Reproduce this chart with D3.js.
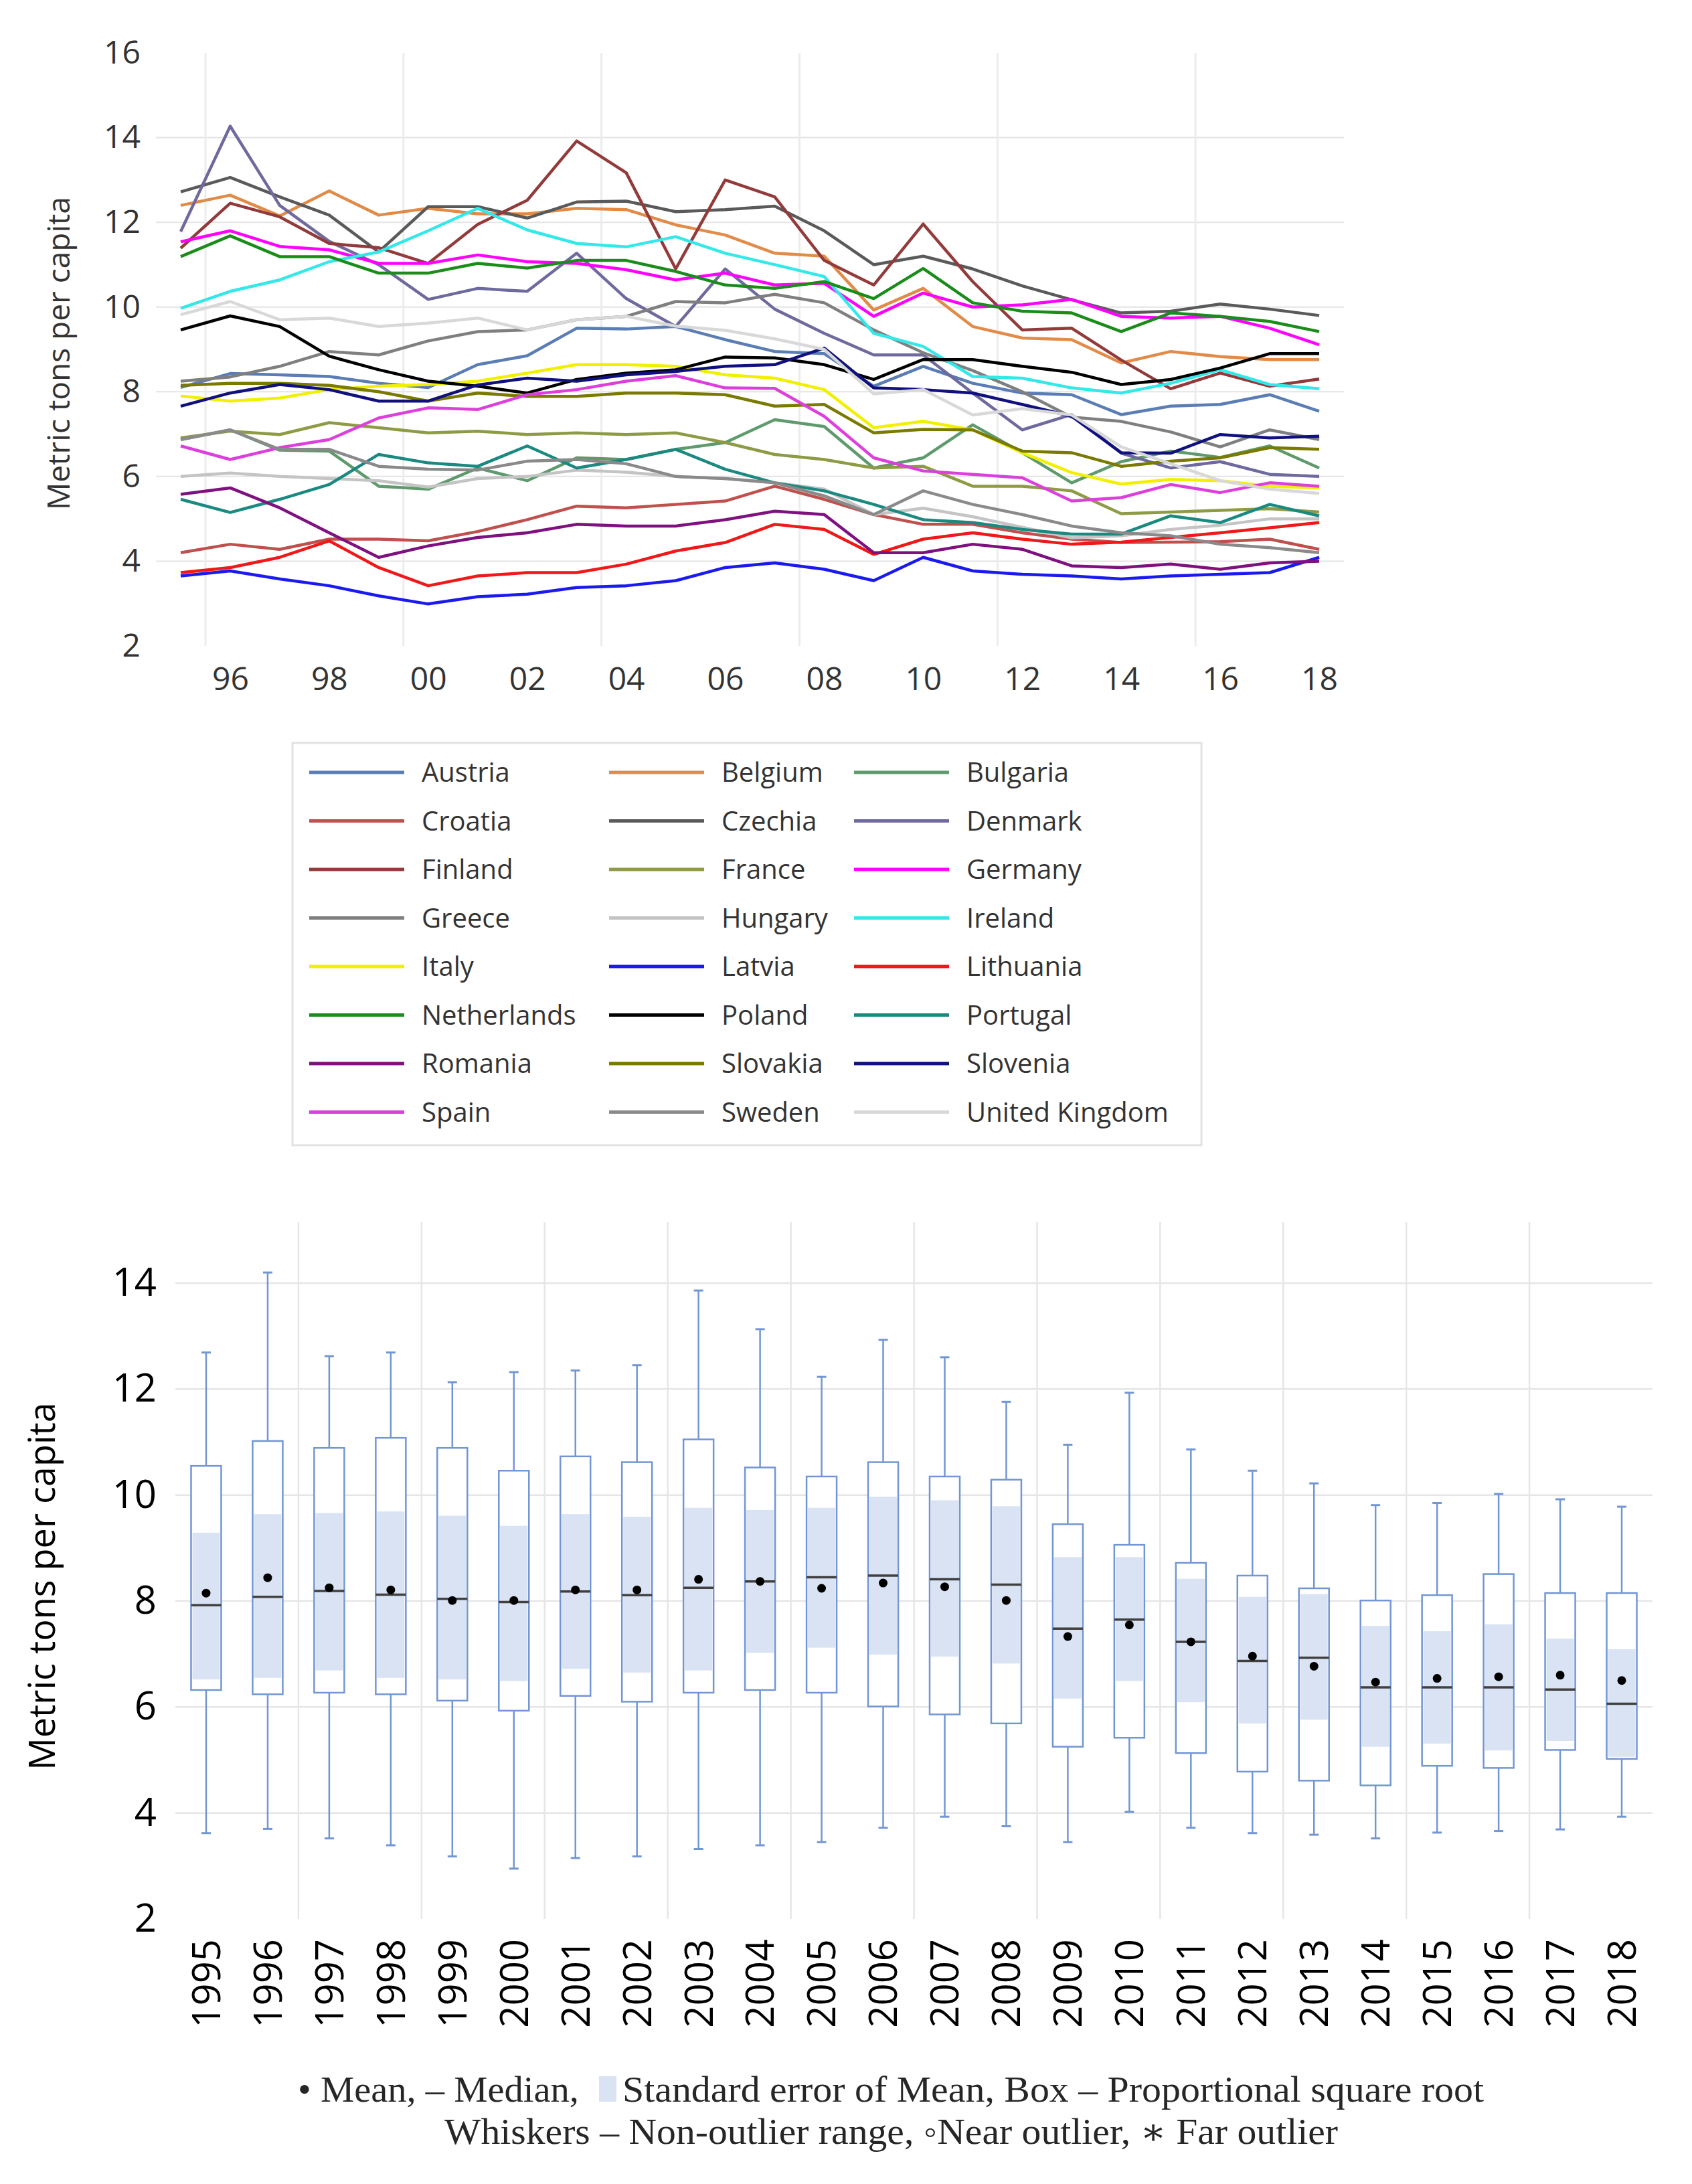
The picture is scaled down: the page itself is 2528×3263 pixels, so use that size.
<!DOCTYPE html>
<html>
<head>
<meta charset="utf-8">
<script src="https://cdnjs.cloudflare.com/ajax/libs/d3/7.8.5/d3.min.js"></script>
<style>
    body { margin: 0; background: #ffffff; }
    svg { display: block; }
</style>
</head>
<body>
<svg id="chart" width="2528" height="3263"></svg>
<script>
// Years on both charts
const years = d3.range(1995, 2019);
const topTickYears = [1996, 1998, 2000, 2002, 2004, 2006, 2008, 2010, 2012, 2014, 2016, 2018];
const topTickLabels = ['96', '98', '00', '02', '04', '06', '08', '10', '12', '14', '16', '18'];

// Metric tons per capita, 1995..2018, one array per country
const austria     = [8.1, 8.43, 8.4, 8.36, 8.2, 8.1, 8.64, 8.85, 9.5, 9.48, 9.54, 9.23, 8.95, 8.9, 8.13, 8.6, 8.2, 7.97, 7.93, 7.46, 7.66, 7.7, 7.93, 7.54];
const belgium     = [12.4, 12.64, 12.15, 12.74, 12.17, 12.33, 12.2, 12.2, 12.33, 12.3, 11.94, 11.7, 11.27, 11.2, 9.93, 10.44, 9.54, 9.27, 9.23, 8.68, 8.95, 8.83, 8.76, 8.76];
const bulgaria    = [6.87, 7.1, 6.62, 6.6, 5.77, 5.7, 6.2, 5.9, 6.44, 6.4, 6.64, 6.8, 7.34, 7.18, 6.2, 6.44, 7.22, 6.56, 5.85, 6.35, 6.6, 6.45, 6.72, 6.2];
const croatia     = [4.2, 4.4, 4.28, 4.52, 4.52, 4.48, 4.7, 4.98, 5.3, 5.26, 5.34, 5.42, 5.77, 5.46, 5.1, 4.87, 4.87, 4.67, 4.52, 4.44, 4.45, 4.46, 4.52, 4.28];
const czechia     = [12.72, 13.06, 12.6, 12.17, 11.3, 12.37, 12.37, 12.1, 12.48, 12.5, 12.25, 12.3, 12.38, 11.8, 11.0, 11.2, 10.9, 10.5, 10.17, 9.86, 9.9, 10.07, 9.95, 9.8];
const denmark     = [11.78, 14.27, 12.4, 11.55, 11.0, 10.18, 10.44, 10.37, 11.27, 10.2, 9.54, 10.9, 9.95, 9.38, 8.87, 8.87, 7.97, 7.1, 7.46, 6.55, 6.2, 6.35, 6.05, 6.0];
const finland     = [11.39, 12.45, 12.13, 11.5, 11.4, 11.03, 11.95, 12.52, 13.92, 13.17, 10.9, 13.0, 12.6, 11.1, 10.52, 11.96, 10.6, 9.46, 9.5, 8.75, 8.07, 8.44, 8.13, 8.3];
const france      = [6.91, 7.07, 6.99, 7.27, 7.15, 7.03, 7.07, 6.99, 7.03, 6.99, 7.03, 6.8, 6.52, 6.4, 6.2, 6.24, 5.77, 5.77, 5.66, 5.12, 5.16, 5.2, 5.24, 5.16];
const germany     = [11.54, 11.8, 11.43, 11.35, 11.03, 11.03, 11.23, 11.07, 11.03, 10.88, 10.64, 10.8, 10.52, 10.56, 9.78, 10.33, 10.0, 10.05, 10.18, 9.78, 9.74, 9.78, 9.5, 9.11];
const greece      = [8.25, 8.35, 8.6, 8.95, 8.87, 9.2, 9.42, 9.46, 9.7, 9.78, 10.13, 10.1, 10.3, 10.1, 9.46, 8.92, 8.5, 8.0, 7.4, 7.3, 7.05, 6.7, 7.1, 6.87];
const hungary     = [6.0, 6.08, 6.0, 5.95, 5.9, 5.75, 5.95, 6.0, 6.15, 6.1, 6.0, 5.95, 5.85, 5.7, 5.1, 5.25, 5.05, 4.8, 4.55, 4.6, 4.75, 4.85, 5.0, 5.0];
const ireland     = [9.97, 10.37, 10.64, 11.07, 11.3, 11.8, 12.33, 11.82, 11.5, 11.42, 11.66, 11.27, 11.0, 10.72, 9.38, 9.07, 8.36, 8.32, 8.09, 7.97, 8.2, 8.52, 8.17, 8.07];
const italy       = [7.9, 7.78, 7.85, 8.05, 8.13, 8.17, 8.25, 8.44, 8.64, 8.64, 8.6, 8.4, 8.32, 8.05, 7.15, 7.3, 7.1, 6.56, 6.09, 5.82, 5.93, 5.9, 5.77, 5.73];
const latvia      = [3.65, 3.77, 3.58, 3.42, 3.18, 2.99, 3.16, 3.22, 3.38, 3.42, 3.54, 3.85, 3.96, 3.81, 3.54, 4.09, 3.77, 3.69, 3.65, 3.58, 3.65, 3.69, 3.73, 4.09];
const lithuania   = [3.73, 3.85, 4.09, 4.48, 3.85, 3.42, 3.65, 3.73, 3.73, 3.93, 4.24, 4.44, 4.87, 4.75, 4.16, 4.52, 4.67, 4.52, 4.4, 4.45, 4.56, 4.67, 4.79, 4.91];
const netherlands = [11.19, 11.68, 11.19, 11.19, 10.8, 10.8, 11.03, 10.92, 11.1, 11.1, 10.84, 10.52, 10.44, 10.6, 10.2, 10.91, 10.1, 9.9, 9.86, 9.42, 9.86, 9.78, 9.66, 9.42];
const poland      = [9.46, 9.79, 9.54, 8.84, 8.52, 8.25, 8.13, 7.97, 8.29, 8.44, 8.52, 8.82, 8.8, 8.64, 8.29, 8.76, 8.76, 8.6, 8.46, 8.17, 8.29, 8.56, 8.9, 8.9];
const portugal    = [5.46, 5.15, 5.46, 5.81, 6.52, 6.32, 6.24, 6.72, 6.2, 6.4, 6.64, 6.17, 5.85, 5.66, 5.34, 4.98, 4.91, 4.75, 4.64, 4.64, 5.07, 4.91, 5.34, 5.07];
const romania     = [5.58, 5.73, 5.26, 4.67, 4.09, 4.36, 4.56, 4.67, 4.87, 4.83, 4.83, 4.98, 5.18, 5.1, 4.2, 4.2, 4.4, 4.28, 3.89, 3.85, 3.93, 3.81, 3.96, 4.0];
const slovakia    = [8.15, 8.2, 8.2, 8.15, 8.0, 7.78, 7.97, 7.89, 7.89, 7.97, 7.97, 7.93, 7.66, 7.7, 7.03, 7.11, 7.1, 6.6, 6.56, 6.24, 6.36, 6.44, 6.68, 6.64];
const slovenia    = [7.66, 7.97, 8.17, 8.05, 7.78, 7.78, 8.16, 8.32, 8.25, 8.4, 8.48, 8.6, 8.64, 9.03, 8.09, 8.05, 7.97, 7.7, 7.42, 6.56, 6.55, 6.99, 6.91, 6.95];
const spain       = [6.72, 6.4, 6.68, 6.87, 7.38, 7.62, 7.58, 7.93, 8.05, 8.25, 8.38, 8.09, 8.08, 7.42, 6.44, 6.13, 6.05, 5.97, 5.42, 5.5, 5.81, 5.62, 5.85, 5.77];
const sweden      = [6.87, 7.1, 6.64, 6.64, 6.24, 6.17, 6.15, 6.36, 6.4, 6.3, 6.0, 5.95, 5.85, 5.54, 5.1, 5.66, 5.34, 5.1, 4.83, 4.67, 4.6, 4.4, 4.32, 4.2];
const unitedKingdom = [9.82, 10.13, 9.7, 9.74, 9.54, 9.62, 9.74, 9.46, 9.7, 9.78, 9.55, 9.45, 9.25, 9.0, 7.95, 8.05, 7.45, 7.6, 7.45, 6.7, 6.3, 5.9, 5.7, 5.6];

const countryNames = ['Austria', 'Belgium', 'Bulgaria', 'Croatia', 'Czechia', 'Denmark', 'Finland', 'France',
    'Germany', 'Greece', 'Hungary', 'Ireland', 'Italy', 'Latvia', 'Lithuania', 'Netherlands', 'Poland',
    'Portugal', 'Romania', 'Slovakia', 'Slovenia', 'Spain', 'Sweden', 'United Kingdom'];
const countryValues = [austria, belgium, bulgaria, croatia, czechia, denmark, finland, france,
    germany, greece, hungary, ireland, italy, latvia, lithuania, netherlands, poland,
    portugal, romania, slovakia, slovenia, spain, sweden, unitedKingdom];

// Box plot summary per year
const boxMax    = [12.69, 14.2, 12.62, 12.69, 12.13, 12.32, 12.35, 12.45, 13.86, 13.13, 12.23, 12.93, 12.6, 11.76, 10.95, 11.93, 10.86, 10.46, 10.22, 9.81, 9.85, 10.02, 9.92, 9.78];
const boxQ3     = [10.55, 11.02, 10.89, 11.08, 10.89, 10.46, 10.73, 10.62, 11.05, 10.52, 10.35, 10.62, 10.35, 10.29, 9.45, 9.06, 8.72, 8.48, 8.24, 8.01, 8.11, 8.51, 8.15, 8.15];
const boxMedian = [7.92, 8.08, 8.19, 8.12, 8.04, 7.98, 8.18, 8.11, 8.25, 8.37, 8.45, 8.48, 8.41, 8.31, 7.48, 7.65, 7.23, 6.87, 6.93, 6.37, 6.37, 6.37, 6.33, 6.06];
const boxMean   = [8.15, 8.44, 8.25, 8.21, 8.01, 8.01, 8.21, 8.21, 8.41, 8.37, 8.24, 8.34, 8.27, 8.01, 7.33, 7.55, 7.23, 6.96, 6.77, 6.47, 6.54, 6.57, 6.6, 6.5];
const boxQ1     = [6.32, 6.24, 6.27, 6.24, 6.12, 5.93, 6.21, 6.1, 6.27, 6.32, 6.27, 6.01, 5.86, 5.69, 5.25, 5.42, 5.13, 4.78, 4.61, 4.52, 4.89, 4.85, 5.19, 5.02];
const boxMin    = [3.62, 3.7, 3.52, 3.39, 3.18, 2.95, 3.15, 3.18, 3.32, 3.39, 3.45, 3.72, 3.93, 3.75, 3.45, 4.02, 3.72, 3.62, 3.59, 3.52, 3.63, 3.66, 3.69, 3.93];
const seHigh    = [9.29, 9.64, 9.66, 9.69, 9.61, 9.42, 9.64, 9.59, 9.76, 9.72, 9.76, 9.97, 9.9, 9.79, 8.83, 8.83, 8.42, 8.08, 8.13, 7.53, 7.43, 7.56, 7.29, 7.09];
const seLow     = [6.52, 6.55, 6.69, 6.55, 6.52, 6.49, 6.72, 6.65, 6.69, 7.02, 7.12, 6.99, 6.95, 6.82, 6.16, 6.49, 6.09, 5.69, 5.76, 5.25, 5.31, 5.18, 5.36, 5.06];

// Line colours, same order as countryNames
const lineColors = ['#5A7DB5', '#E28B48', '#5E9A6C', '#C0504D', '#5A5A5A', '#6F6A9E', '#933B3B', '#8F9A45',
    '#FF00FF', '#7F7F7F', '#C4C4C4', '#33E8E8', '#F0F000', '#1A1AF0', '#F01818', '#1A8C1A', '#000000',
    '#1A8A80', '#7F107F', '#7A7A00', '#10107F', '#DD3FDD', '#8A8A8A', '#D8D8D8'];

const svg = d3.select('#chart');
const font = "'Open Sans', 'Liberation Sans', sans-serif";

// Function to draw the line chart on top
function drawLineChart() {
    const x = d3.scaleLinear().domain([1994.5, 2018.5]).range([233, 2008]);
    const y = d3.scaleLinear().domain([2, 16]).range([965, 79]);
    const g = svg.append('g');

    // Grid
    g.selectAll('.hgrid').data(d3.range(4, 16, 2)).enter().append('line')
        .attr('x1', x(1994.5)).attr('x2', x(2018.5))
        .attr('y1', d => y(d)).attr('y2', d => y(d))
        .attr('stroke', '#e4e4e4').attr('stroke-width', 2);
    g.selectAll('.vgrid').data(d3.range(1995.5, 2018, 4)).enter().append('line')
        .attr('x1', d => x(d)).attr('x2', d => x(d))
        .attr('y1', y(16)).attr('y2', y(2))
        .attr('stroke', '#ececec').attr('stroke-width', 3);

    // Axes
    const yAxis = g.append('g').attr('transform', 'translate(210,0)')
        .call(d3.axisLeft(y).tickValues(d3.range(2, 17, 2)).tickSize(0).tickPadding(0));
    const xAxis = g.append('g').attr('transform', 'translate(0,997)')
        .call(d3.axisBottom(x).tickValues(topTickYears)
            .tickFormat((d, i) => topTickLabels[i]).tickSize(0).tickPadding(0));
    [yAxis, xAxis].forEach(a => {
        a.select('.domain').remove();
        a.selectAll('text').attr('font-size', 48).attr('font-family', font).attr('fill', '#333');
    });

    g.append('text')
        .attr('transform', 'translate(104,528) rotate(-90)')
        .attr('text-anchor', 'middle')
        .attr('font-size', 46).attr('font-family', font).attr('fill', '#333')
        .text('Metric tons per capita');

    // Lines
    const line = d3.line()
        .x((d, i) => x(years[i]))
        .y(d => y(d));

    g.selectAll('.country').data(countryValues).enter().append('path')
        .attr('fill', 'none')
        .attr('stroke', (d, i) => lineColors[i])
        .attr('stroke-width', 4.5)
        .attr('stroke-linejoin', 'round')
        .attr('d', line);

    // Legend
    const legend = svg.append('g');
    legend.append('rect')
        .attr('x', 437).attr('y', 1110).attr('width', 1358).attr('height', 601)
        .attr('fill', '#fff').attr('stroke', '#e2e2e2').attr('stroke-width', 3);

    const colX = [462, 910, 1276];
    const items = legend.selectAll('.item').data(countryNames).enter().append('g')
        .attr('transform', (d, i) => `translate(${colX[i % 3]},${1154 + Math.floor(i / 3) * 72.5})`);
    items.append('line')
        .attr('x1', 0).attr('x2', 142)
        .attr('stroke', (d, i) => lineColors[i]).attr('stroke-width', 5);
    items.append('text')
        .attr('x', 168).attr('dy', '0.35em')
        .attr('font-size', 40).attr('font-family', font).attr('fill', '#333')
        .text(d => d);
}

// Function to draw the box plot below
function drawBoxPlot() {
    const x = d3.scaleBand().domain(years).range([262, 2469]);
    const y = d3.scaleLinear().domain([2, 14]).range([2867, 1917]);
    const g = svg.append('g');
    const boxW = 45;
    const blue = '#7296D3';

    g.selectAll('.hgrid').data(d3.range(4, 16, 2)).enter().append('line')
        .attr('x1', 262).attr('x2', 2469)
        .attr('y1', d => y(d)).attr('y2', d => y(d))
        .attr('stroke', '#e6e6e6').attr('stroke-width', 2.5);
    g.selectAll('.vgrid').data(d3.range(1996, 2017, 2)).enter().append('line')
        .attr('x1', d => x(d) + x.bandwidth()).attr('x2', d => x(d) + x.bandwidth())
        .attr('y1', y(15.15)).attr('y2', y(2))
        .attr('stroke', '#e6e6e6').attr('stroke-width', 2.5);

    const yAxis = g.append('g').attr('transform', 'translate(234,0)')
        .call(d3.axisLeft(y).tickValues(d3.range(2, 15, 2)).tickSize(0).tickPadding(0));
    yAxis.select('.domain').remove();
    yAxis.selectAll('text').attr('font-size', 58).attr('font-family', font).attr('fill', '#000');

    const xAxis = g.append('g').attr('transform', 'translate(0,2897)')
        .call(d3.axisBottom(x).tickSize(0).tickPadding(0));
    xAxis.select('.domain').remove();
    xAxis.selectAll('text')
        .attr('transform', 'rotate(-90)')
        .attr('text-anchor', 'end')
        .attr('x', 0).attr('y', 0).attr('dy', '0.36em')
        .attr('font-size', 58).attr('font-family', font).attr('fill', '#000');

    g.append('text')
        .attr('transform', 'translate(82,2370) rotate(-90)')
        .attr('text-anchor', 'middle')
        .attr('font-size', 54).attr('font-family', font).attr('fill', '#000')
        .text('Metric tons per capita');

    const box = g.selectAll('.box').data(years).enter().append('g')
        .attr('transform', d => `translate(${x(d) + x.bandwidth() / 2},0)`);

    // Whiskers and caps
    box.append('line')
        .attr('y1', (d, i) => y(boxMax[i])).attr('y2', (d, i) => y(boxMin[i]))
        .attr('stroke', blue).attr('stroke-width', 2.5);
    box.append('line')
        .attr('x1', -7).attr('x2', 7)
        .attr('y1', (d, i) => y(boxMax[i])).attr('y2', (d, i) => y(boxMax[i]))
        .attr('stroke', blue).attr('stroke-width', 3);
    box.append('line')
        .attr('x1', -7).attr('x2', 7)
        .attr('y1', (d, i) => y(boxMin[i])).attr('y2', (d, i) => y(boxMin[i]))
        .attr('stroke', blue).attr('stroke-width', 3);

    // Box and standard error band
    box.append('rect')
        .attr('x', -boxW / 2).attr('width', boxW)
        .attr('y', (d, i) => y(boxQ3[i]))
        .attr('height', (d, i) => y(boxQ1[i]) - y(boxQ3[i]))
        .attr('fill', '#fff');
    box.append('rect')
        .attr('x', -boxW / 2 + 2).attr('width', boxW - 4)
        .attr('y', (d, i) => y(Math.min(seHigh[i], boxQ3[i])))
        .attr('height', (d, i) => y(Math.max(seLow[i], boxQ1[i])) - y(Math.min(seHigh[i], boxQ3[i])))
        .attr('fill', '#DAE3F3');
    box.append('rect')
        .attr('x', -boxW / 2).attr('width', boxW)
        .attr('y', (d, i) => y(boxQ3[i]))
        .attr('height', (d, i) => y(boxQ1[i]) - y(boxQ3[i]))
        .attr('fill', 'none').attr('stroke', blue).attr('stroke-width', 2.5);

    // Median and mean
    box.append('line')
        .attr('x1', -boxW / 2).attr('x2', boxW / 2)
        .attr('y1', (d, i) => y(boxMedian[i])).attr('y2', (d, i) => y(boxMedian[i]))
        .attr('stroke', '#404040').attr('stroke-width', 3.5);
    box.append('circle')
        .attr('cy', (d, i) => y(boxMean[i]))
        .attr('r', 6.5)
        .attr('fill', '#000');
}

// Function to draw the caption lines under the box plot
function drawCaption() {
    const serif = "'Liberation Serif', 'DejaVu Serif', serif";
    const cap = svg.append('g').attr('font-family', serif).attr('font-size', 54).attr('fill', '#262626');

    cap.append('text')
        .attr('x', 445).attr('y', 3140)
        .attr('textLength', 420).attr('lengthAdjust', 'spacingAndGlyphs')
        .text('\u2022 Mean, \u2013 Median,');
    cap.append('rect')
        .attr('x', 895).attr('y', 3102).attr('width', 26).attr('height', 38)
        .attr('fill', '#DAE3F3');
    cap.append('text')
        .attr('x', 930).attr('y', 3140)
        .attr('textLength', 1287).attr('lengthAdjust', 'spacingAndGlyphs')
        .text('Standard error of Mean, Box \u2013 Proportional square root');
    cap.append('text')
        .attr('x', 664).attr('y', 3203)
        .attr('textLength', 1335).attr('lengthAdjust', 'spacingAndGlyphs')
        .text('Whiskers \u2013 Non-outlier range, \u25E6Near outlier, \u2217 Far outlier');
}

document.addEventListener('DOMContentLoaded', function () {
    drawLineChart();
    drawBoxPlot();
    drawCaption();
});
</script>
</body>
</html>
